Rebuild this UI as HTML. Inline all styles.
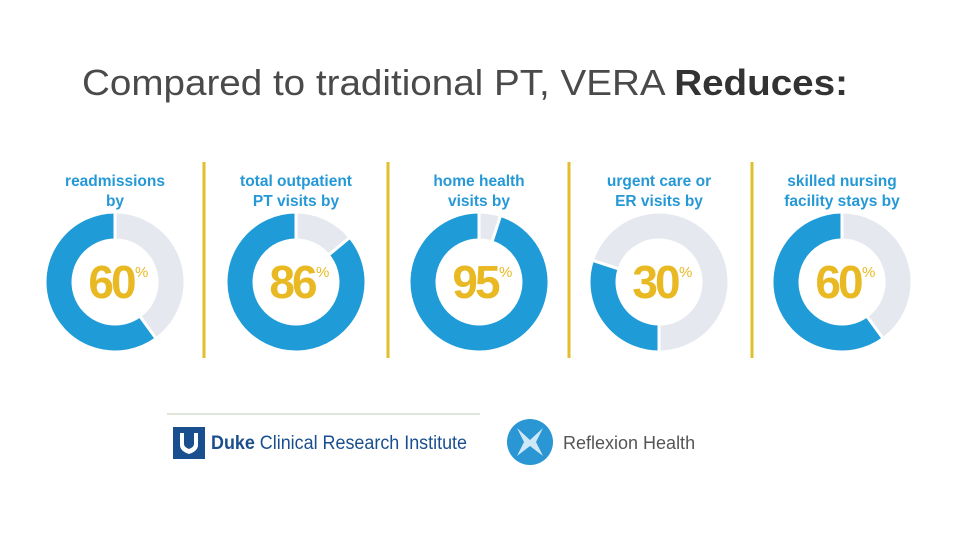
<!DOCTYPE html>
<html><head><meta charset="utf-8"><style>
body{margin:0;width:960px;height:540px;background:#fff;overflow:hidden;font-family:"Liberation Sans",sans-serif;}
</style></head><body>
<svg width="960" height="540" viewBox="0 0 960 540" xmlns="http://www.w3.org/2000/svg">
<text x="82" y="95" font-size="36" fill="#4a4a4a" font-family="Liberation Sans" textLength="766" lengthAdjust="spacingAndGlyphs">Compared to traditional PT, VERA <tspan font-weight="bold" fill="#333">Reduces:</tspan></text>
<g id="charts"></g>
<line x1="167" y1="414" x2="480" y2="414" stroke="#c9d6c3" stroke-width="1.2"/>
<g>
<rect x="173" y="427" width="32" height="32" fill="#1a4f8f"/>
<path d="M180 433 v12 q0 6 9 9 q9 -3 9 -9 v-12 h-4 v11 q0 3 -5 5 q-5 -2 -5 -5 v-11z" fill="#fff"/>
<text x="211" y="449" font-size="19" fill="#1a4f8f" textLength="256" lengthAdjust="spacingAndGlyphs"><tspan font-weight="bold">Duke</tspan> Clinical Research Institute</text>
</g>
<g>
<circle cx="530" cy="442" r="23" fill="#2a96d3"/>
<path d="M517 428 L530 440 L543 428 L536 442 L543 456 L530 446 L517 456 L524 442Z" fill="#cfe8f7"/>
<text x="563" y="449" font-size="18" fill="#555">Reflexion Health</text>
</g>
</svg>
<script>
const categories = [["readmissions","by"],["total outpatient","PT visits by"],["home health","visits by"],["urgent care or","ER visits by"],["skilled nursing","facility stays by"]];
const values = [60, 86, 95, 30, 60];
const valueLabels = ["60","86","95","30","60"];
const centers=[115,296,479,659,842];
const blueStartOffset=[null,null,null,180,null];
const dividers=[204,388,569,752];
const cy=282,R=70,r=42;
const NS="http://www.w3.org/2000/svg";
const g=document.getElementById('charts');
function pt(a,rad,cx){const t=(a-90)*Math.PI/180;return [cx+rad*Math.cos(t),cy+rad*Math.sin(t)];}
function arc(cx,a0,a1){
  const large=(a1-a0)>180?1:0;
  const p1=pt(a0,R,cx),p2=pt(a1,R,cx),p3=pt(a1,r,cx),p4=pt(a0,r,cx);
  return `M${p1}A${R},${R} 0 ${large} 1 ${p2}L${p3}A${r},${r} 0 ${large} 0 ${p4}Z`;
}
function mk(tag,attrs){const e=document.createElementNS(NS,tag);for(const k in attrs)e.setAttribute(k,attrs[k]);g.appendChild(e);return e;}
dividers.forEach(x=>{
  const l=mk('line',{x1:x,y1:162,x2:x,y2:358,stroke:'#e2bd2c','stroke-width':3});
  
  
});
values.forEach((v,i)=>{
  const cx=centers[i];
  const sweep=v/100*360;
  let b0,b1;
  if(blueStartOffset[i]!==null){b0=blueStartOffset[i];b1=b0+sweep;}else{b0=360-sweep;b1=360;}
  const bg=mk('path',{d:arc(cx,b1,b0+360),fill:'#e6e8ef',stroke:'#fff','stroke-width':3});
  
  
  const fg=mk('path',{d:arc(cx,b0,b1),fill:'#1f9bd7',stroke:'#fff','stroke-width':3});
  
  
  categories[i].forEach((line,j)=>{
    const t=mk('text',{x:cx,y:186+j*20,'text-anchor':'middle','font-size':15.5,'font-weight':'bold',fill:'#2598d6'});
    t.textContent=line;
    
    
  });
  const n=mk('text',{x:cx-4,y:298,'text-anchor':'middle','font-size':46,'font-weight':'bold',fill:'#e8b923','letter-spacing':-3});
  n.textContent=valueLabels[i];
  
  
  const p=mk('text',{x:cx+20,y:277,'font-size':15,fill:'#e8b923'});
  p.textContent='%';
  
  
});
</script>
</body></html>
